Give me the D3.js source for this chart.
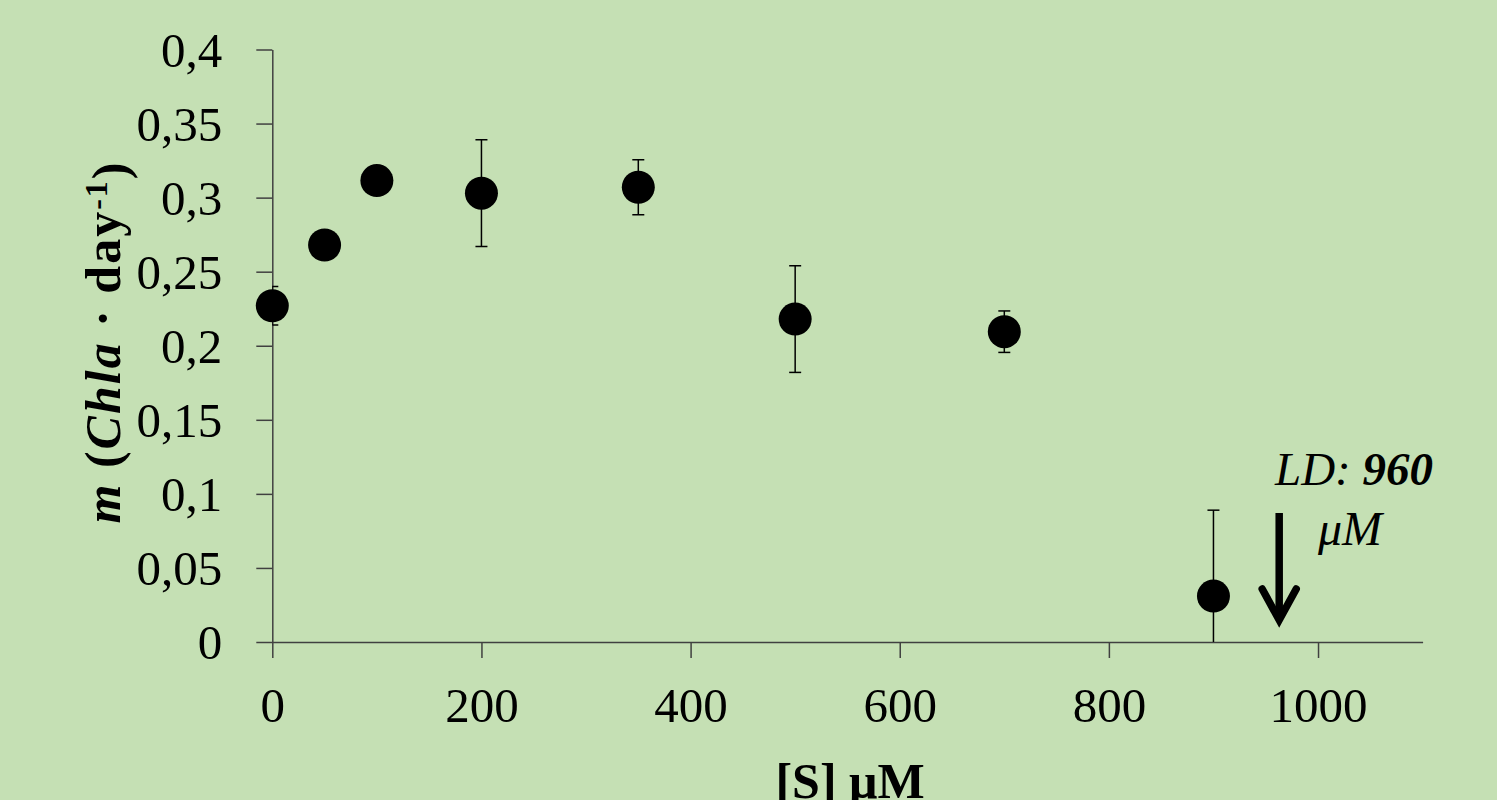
<!DOCTYPE html>
<html><head><meta charset="utf-8">
<script src="https://cdn.jsdelivr.net/npm/d3@7"></script>
<style>body{margin:0;background:#c5e0b4;}svg{display:block;}</style>
</head><body>
<script>
const concentrations = [0, 50, 100, 200, 350, 500, 700, 900];
const growthRates   = [0.227, 0.268, 0.3115, 0.303, 0.307, 0.218, 0.2095, 0.031];
const errors        = [0.013, 0, 0, 0.036, 0.0185, 0.036, 0.014, 0.058];
const xTicks = [0, 200, 400, 600, 800, 1000];
const xTickLabels = ["0", "200", "400", "600", "800", "1000"];
const yTicks = [0, 0.05, 0.1, 0.15, 0.2, 0.25, 0.3, 0.35, 0.4];
const yTickLabels = ["0", "0,05", "0,1", "0,15", "0,2", "0,25", "0,3", "0,35", "0,4"];
const ldValue = 960;

const W = 1497, H = 800;
const m = {left: 272.3, right: W - 1422.6, top: 49.5, bottom: H - 642};
const font = "'Liberation Serif', 'DejaVu Serif', serif";
const axisColor = "#404040";

const svg = d3.select("body").append("svg").attr("width", W).attr("height", H);
svg.append("rect").attr("width", W).attr("height", H).attr("fill", "#c5e0b4");

const x = d3.scaleLinear().domain([0, 1100]).range([m.left, W - m.right]);
const y = d3.scaleLinear().domain([0, 0.4]).range([H - m.bottom, m.top]);

svg.append("clipPath").attr("id", "plot").append("rect")
  .attr("x", m.left).attr("y", m.top).attr("width", x(1100) - m.left).attr("height", y(0) - m.top);

// axes
const gy = svg.append("g").attr("transform", `translate(${m.left},0)`)
  .call(d3.axisLeft(y).tickValues(yTicks).tickSize(16).tickSizeOuter(0).tickPadding(34)
    .tickFormat((d, i) => yTickLabels[i]));
const gx = svg.append("g").attr("transform", `translate(0,${y(0)})`)
  .call(d3.axisBottom(x).tickValues(xTicks).tickSize(16).tickSizeOuter(0).tickPadding(34)
    .tickFormat((d, i) => xTickLabels[i]));
[gx, gy].forEach(g => {
  g.selectAll("path, line").attr("stroke", axisColor).attr("stroke-width", 1.5);
  g.selectAll("text").attr("font-family", font).attr("font-size", 49).attr("fill", "#000");
});
gy.selectAll("text").attr("dy", "0.34em");
gx.selectAll("text").attr("dy", "0.62em");

// error bars
const plot = svg.append("g").attr("clip-path", "url(#plot)");
const data = concentrations.map((c, i) => ({c, v: growthRates[i], e: errors[i]}));
const eb = plot.selectAll("g.eb").data(data.filter(d => d.e > 0)).join("g");
eb.append("line").attr("x1", d => x(d.c)).attr("x2", d => x(d.c))
  .attr("y1", d => y(d.v + d.e)).attr("y2", d => y(d.v - d.e))
  .attr("stroke", "#000").attr("stroke-width", 1.5);
["+", "-"].forEach(s => {
  eb.append("line").attr("x1", d => x(d.c) - 6).attr("x2", d => x(d.c) + 6)
    .attr("y1", d => y(s === "+" ? d.v + d.e : d.v - d.e))
    .attr("y2", d => y(s === "+" ? d.v + d.e : d.v - d.e))
    .attr("stroke", "#000").attr("stroke-width", 1.5);
});

// points
svg.selectAll("circle.pt").data(data).join("circle")
  .attr("cx", d => x(d.c)).attr("cy", d => y(d.v)).attr("r", 16.5).attr("fill", "#000");

// LD arrow
const ax = x(ldValue) + 3;
svg.append("line").attr("x1", ax).attr("x2", ax).attr("y1", 513).attr("y2", 618)
  .attr("stroke", "#000").attr("stroke-width", 7.5);
svg.append("path").attr("d", `M${ax - 17},${589} L${ax},${620} L${ax + 17},${589}`)
  .attr("fill", "none").attr("stroke", "#000").attr("stroke-width", 7.5).attr("stroke-linecap", "round")
  .attr("stroke-linejoin", "miter");

const ld = svg.append("text").attr("x", 1354).attr("y", 485).attr("text-anchor", "middle")
  .attr("font-family", font).attr("font-size", 47).attr("font-style", "italic");
ld.append("tspan").text("LD: ");
ld.append("tspan").attr("font-weight", "bold").text(ldValue);
svg.append("text").attr("x", 1350).attr("y", 545).attr("text-anchor", "middle")
  .attr("font-family", font).attr("font-size", 48).attr("font-style", "italic").text("μM");

// axis titles
svg.append("text").attr("x", 850).attr("y", 798).attr("text-anchor", "middle")
  .attr("font-family", font).attr("font-size", 50).attr("font-weight", "bold").text("[S] μM");

const yl = svg.append("text").attr("transform", "translate(120,342) rotate(-90)")
  .attr("text-anchor", "middle").attr("font-family", font).attr("font-size", 50)
  .attr("font-weight", "bold").attr("letter-spacing", 2);
yl.append("tspan").attr("font-style", "italic").text("m");
yl.append("tspan").text(" (");
yl.append("tspan").attr("font-style", "italic").text("Chla");
yl.append("tspan").text(" · day");
yl.append("tspan").attr("dy", "-0.4em").attr("font-size", 32).text("-1");
yl.append("tspan").attr("dy", "0.4em").text(")");
</script>
</body></html>
